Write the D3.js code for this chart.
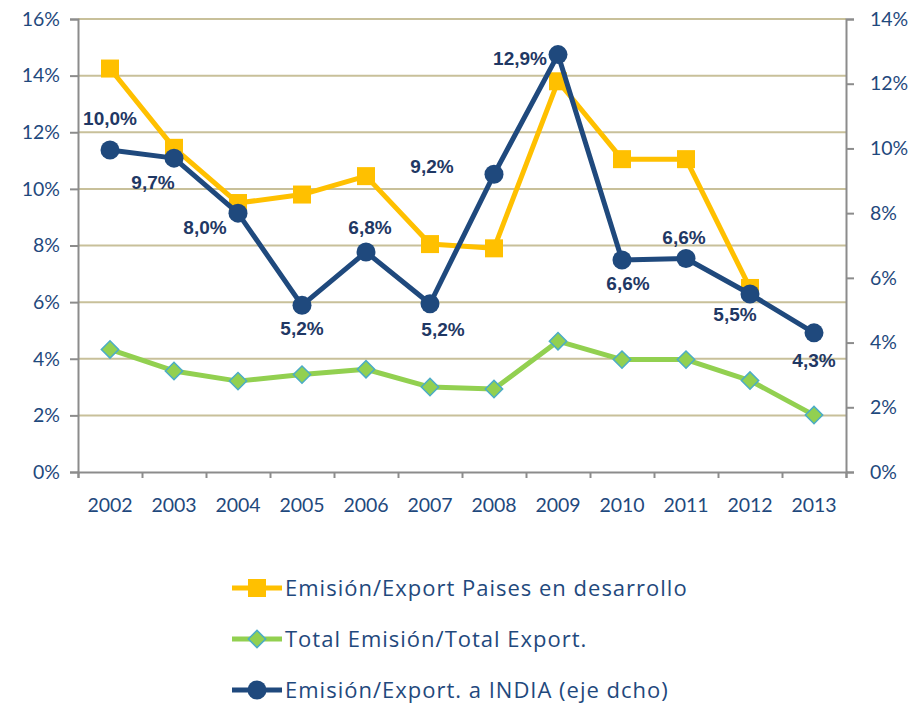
<!DOCTYPE html>
<html>
<head>
<meta charset="utf-8">
<script src="https://cdn.jsdelivr.net/npm/d3@7"></script>
<style>
  body { margin: 0; background: #fff; }
  svg text { font-family: Lato, "Open Sans", sans-serif; }
</style>
</head>
<body>
<script>
// data
var years = ['2002','2003','2004','2005','2006','2007','2008','2009','2010','2011','2012','2013'];
var paisesDesarrollo = [14.25, 11.45, 9.5, 9.8, 10.45, 8.05, 7.9, 13.8, 11.05, 11.05, 6.5, null];
var totalEmision = [4.33, 3.57, 3.21, 3.44, 3.63, 3.0, 2.93, 4.62, 3.97, 3.97, 3.23, 2.01];
var india = [9.95, 9.7, 8.0, 5.15, 6.8, 5.2, 9.2, 12.9, 6.55, 6.6, 5.5, 4.3];
var indiaLabels = ['10,0%','9,7%','8,0%','5,2%','6,8%','5,2%','9,2%','12,9%','6,6%','6,6%','5,5%','4,3%'];
var leftTicks = [0, 2, 4, 6, 8, 10, 12, 14, 16];
var rightTicks = [0, 2, 4, 6, 8, 10, 12, 14];
var legendNames = ['Emisión/Export Paises en desarrollo', 'Total Emisión/Total Export.', 'Emisión/Export. a INDIA (eje dcho)'];

// label offsets from each india point (dx, dy)
var labelOffsets = [[0,-32],[-21,24],[-33,14],[0,23],[4,-24],[13,26],[-62,-8],[-38,4],[6,23],[-2,-21],[-15,20],[0,28]];

var width = 916, height = 704,
    plot = {left: 78, right: 846, top: 19, bottom: 472};

var navy = '#1f497d', gold = '#ffc000', green = '#92d050', grid = '#c8c09a', axisGray = '#8c8c8c';

var svg = d3.select('body').append('svg')
    .attr('width', width)
    .attr('height', height);

var x = d3.scaleBand().domain(years).range([plot.left, plot.right]).padding(0);
var xEdge = d3.scaleLinear().domain([0, years.length]).range([plot.left, plot.right]);
var yL = d3.scaleLinear().domain([0, 16]).range([plot.bottom, plot.top]);
var yR = d3.scaleLinear().domain([0, 14]).range([plot.bottom, plot.top]);
var cx = function(i) { return x(years[i]) + x.bandwidth() / 2; };

// gridlines
svg.append('g')
    .selectAll('line')
    .data(leftTicks.filter(function(d) { return d > 0; }))
    .enter().append('line')
    .attr('x1', plot.left).attr('x2', plot.right)
    .attr('y1', function(d) { return yL(d); })
    .attr('y2', function(d) { return yL(d); })
    .attr('stroke', grid)
    .attr('stroke-width', 2);

// axes
var leftAxis = svg.append('g')
    .attr('transform', 'translate(' + plot.left + ',0)')
    .call(d3.axisLeft(yL).tickValues(leftTicks).tickSize(8).tickPadding(10)
        .tickFormat(function(d) { return d + '%'; }));

var rightAxis = svg.append('g')
    .attr('transform', 'translate(' + plot.right + ',0)')
    .call(d3.axisRight(yR).tickValues(rightTicks).tickSize(8).tickPadding(16)
        .tickFormat(function(d) { return d + '%'; }));

var bottomTicks = svg.append('g')
    .attr('transform', 'translate(0,' + plot.bottom + ')')
    .call(d3.axisBottom(xEdge).ticks(years.length).tickSize(6).tickFormat(''));

var bottomLabels = svg.append('g')
    .attr('transform', 'translate(0,' + plot.bottom + ')')
    .call(d3.axisBottom(x).tickSize(0).tickPadding(26));
bottomLabels.select('.domain').remove();

[leftAxis, rightAxis, bottomTicks].forEach(function(a) {
    a.select('.domain').attr('stroke', axisGray).attr('stroke-width', 2);
    a.selectAll('.tick line').attr('stroke', axisGray).attr('stroke-width', 2);
});
[leftAxis, rightAxis, bottomLabels].forEach(function(a) {
    a.selectAll('text').attr('fill', navy).style('font-size', '19.5px')
        .style('font-family', 'Lato, sans-serif');
});

// series
var lineL = d3.line()
    .defined(function(d) { return d != null; })
    .x(function(d, i) { return cx(i); })
    .y(function(d) { return yL(d); });
var lineR = d3.line()
    .x(function(d, i) { return cx(i); })
    .y(function(d) { return yR(d); });

svg.append('path').datum(totalEmision)
    .attr('d', lineL).attr('fill', 'none')
    .attr('stroke', green).attr('stroke-width', 5).attr('stroke-linejoin', 'round');
svg.append('g').selectAll('path')
    .data(totalEmision)
    .enter().append('path')
    .attr('d', d3.symbol(d3.symbolSquare, 150)())
    .attr('transform', function(d, i) { return 'translate(' + cx(i) + ',' + yL(d) + ') rotate(45)'; })
    .attr('fill', green)
    .attr('stroke', '#4bacc6')
    .attr('stroke-width', 1.5);

svg.append('path').datum(paisesDesarrollo)
    .attr('d', lineL).attr('fill', 'none')
    .attr('stroke', gold).attr('stroke-width', 5).attr('stroke-linejoin', 'round');
svg.append('g').selectAll('rect')
    .data(paisesDesarrollo.map(function(d, i) { return {v: d, i: i}; }).filter(function(d) { return d.v != null; }))
    .enter().append('rect')
    .attr('x', function(d) { return cx(d.i) - 9; })
    .attr('y', function(d) { return yL(d.v) - 9; })
    .attr('width', 18).attr('height', 18)
    .attr('fill', gold);

svg.append('path').datum(india)
    .attr('d', lineR).attr('fill', 'none')
    .attr('stroke', navy).attr('stroke-width', 5).attr('stroke-linejoin', 'round');
svg.append('g').selectAll('circle')
    .data(india)
    .enter().append('circle')
    .attr('cx', function(d, i) { return cx(i); })
    .attr('cy', function(d) { return yR(d); })
    .attr('r', 9.5)
    .attr('fill', navy);

svg.append('g').selectAll('text')
    .data(india)
    .enter().append('text')
    .attr('x', function(d, i) { return cx(i) + labelOffsets[i][0]; })
    .attr('y', function(d, i) { return yR(d) + labelOffsets[i][1]; })
    .attr('text-anchor', 'middle')
    .attr('dominant-baseline', 'central')
    .style('font-family', '"Liberation Sans", Arial, sans-serif')
    .style('font-weight', 'bold')
    .style('font-size', '19px')
    .attr('fill', '#1f3864')
    .text(function(d, i) { return indiaLabels[i]; });

// legend
var legend = svg.append('g').attr('transform', 'translate(232,588)');
var items = legend.selectAll('g')
    .data(legendNames)
    .enter().append('g')
    .attr('transform', function(d, i) { return 'translate(0,' + (i * 51) + ')'; });

items.append('line')
    .attr('x1', 0).attr('x2', 50)
    .attr('stroke', function(d, i) { return [gold, green, navy][i]; })
    .attr('stroke-width', 5);
items.filter(function(d, i) { return i === 0; }).append('rect')
    .attr('x', 16).attr('y', -9).attr('width', 18).attr('height', 18).attr('fill', gold);
items.filter(function(d, i) { return i === 1; }).append('path')
    .attr('d', d3.symbol(d3.symbolSquare, 150)())
    .attr('transform', 'translate(25,0) rotate(45)')
    .attr('fill', green).attr('stroke', '#4bacc6').attr('stroke-width', 1.5);
items.filter(function(d, i) { return i === 2; }).append('circle')
    .attr('cx', 25).attr('r', 9.5).attr('fill', navy);
items.append('text')
    .attr('x', 53)
    .attr('dy', '0.35em')
    .attr('fill', navy)
    .style('font-family', '"Open Sans", sans-serif')
    .style('font-size', '22px')
    .style('letter-spacing', '1px')
    .text(function(d) { return d; });
</script>
</body>
</html>
